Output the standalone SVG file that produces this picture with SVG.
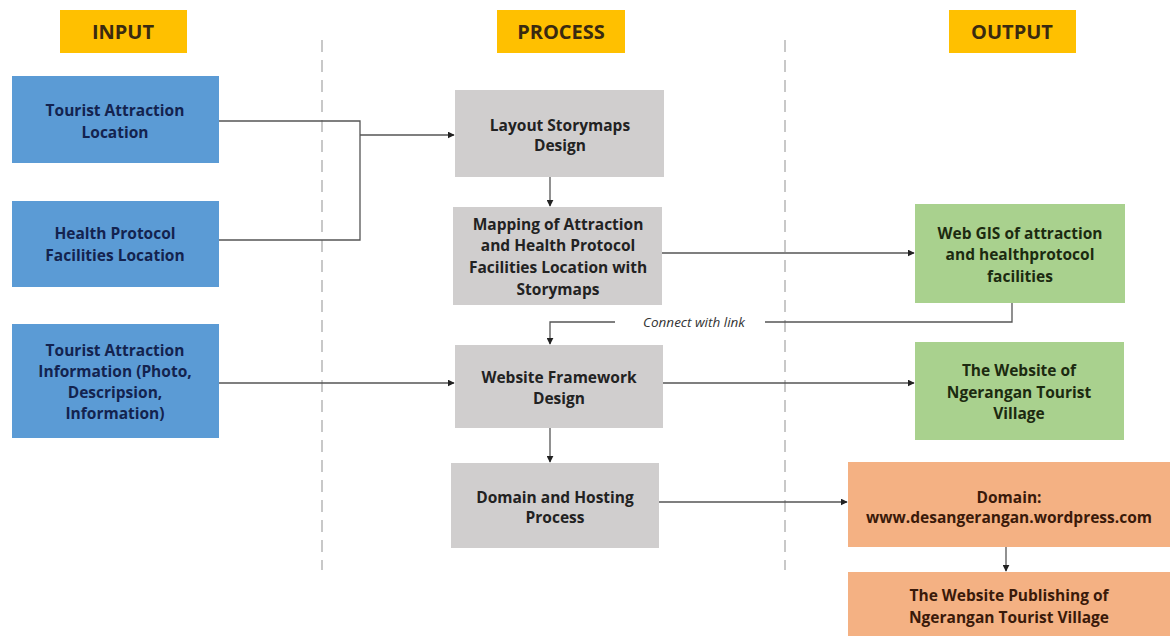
<svg xmlns="http://www.w3.org/2000/svg" width="1170" height="636" viewBox="0 0 1170 636">
<defs>
<marker id="arr" viewBox="0 0 10 10" refX="9" refY="5" markerWidth="7" markerHeight="7" markerUnits="userSpaceOnUse" orient="auto">
<path d="M0,0 L10,5 L0,10 z" fill="#222"/>
</marker>
<style>
.t{font-family:"Open Sans","Liberation Sans",sans-serif;font-weight:bold;font-size:15.5px;text-anchor:middle}
.hd{font-family:"Open Sans","Liberation Sans",sans-serif;font-weight:bold;font-size:20px;text-anchor:middle;fill:#3a2a10}
.hdbox{fill:#FFC000}
.blue{fill:#5B9BD5}
.bt{fill:#13234f}
.gray{fill:#D0CECE}
.gt{fill:#222}
.green{fill:#A9D18E}
.grt{fill:#1c2a10}
.orange{fill:#F4B183}
.ot{fill:#3a1a0a}
.c{fill:none;stroke:#555;stroke-width:1.3}
.dash{stroke:#c8c8c8;stroke-width:2;stroke-dasharray:12,8;fill:none}
.lbl{font-family:"Open Sans","Liberation Sans",sans-serif;font-style:italic;font-size:13.5px;fill:#333;text-anchor:middle}
</style>
</defs>
<rect width="1170" height="636" fill="#fff"/>
<g id="dividers">
<line class="dash" x1="322" y1="40" x2="322" y2="570"/>
<line class="dash" x1="785" y1="40" x2="785" y2="570"/>
</g>
<g id="hdr-input"><rect class="hdbox" x="60" y="10" width="127" height="43"/><text class="hd" x="123" y="39">INPUT</text></g>
<g id="hdr-process"><rect class="hdbox" x="497" y="10" width="128" height="43"/><text class="hd" x="561" y="39">PROCESS</text></g>
<g id="hdr-output"><rect class="hdbox" x="949" y="10" width="127" height="43"/><text class="hd" x="1012" y="39">OUTPUT</text></g>

<g id="in1"><rect class="blue" x="12" y="76" width="207" height="87"/>
<text class="t bt" x="115" y="116">Tourist Attraction</text><text class="t bt" x="115" y="138">Location</text></g>
<g id="in2"><rect class="blue" x="12" y="201" width="207" height="86"/>
<text class="t bt" x="115" y="239">Health Protocol</text><text class="t bt" x="115" y="261">Facilities Location</text></g>
<g id="in3"><rect class="blue" x="12" y="324" width="207" height="114"/>
<text class="t bt" x="115" y="356">Tourist Attraction</text><text class="t bt" x="115" y="377">Information (Photo,</text><text class="t bt" x="115" y="398">Descripsion,</text><text class="t bt" x="115" y="419">Information)</text></g>

<g id="p1"><rect class="gray" x="455" y="90" width="209" height="87"/>
<text class="t gt" x="560" y="131">Layout Storymaps</text><text class="t gt" x="560" y="151">Design</text></g>
<g id="p2"><rect class="gray" x="453" y="207" width="209" height="98"/>
<text class="t gt" x="558" y="230">Mapping of Attraction</text><text class="t gt" x="558" y="251">and Health Protocol</text><text class="t gt" x="558" y="273">Facilities Location with</text><text class="t gt" x="558" y="295">Storymaps</text></g>
<g id="p3"><rect class="gray" x="455" y="345" width="208" height="83"/>
<text class="t gt" x="559" y="383">Website Framework</text><text class="t gt" x="559" y="404">Design</text></g>
<g id="p4"><rect class="gray" x="451" y="463" width="208" height="85"/>
<text class="t gt" x="555" y="503">Domain and Hosting</text><text class="t gt" x="555" y="523">Process</text></g>

<g id="o1"><rect class="green" x="915" y="204" width="210" height="99"/>
<text class="t grt" x="1020" y="239">Web GIS of attraction</text><text class="t grt" x="1020" y="260">and healthprotocol</text><text class="t grt" x="1020" y="282">facilities</text></g>
<g id="o2"><rect class="green" x="915" y="342" width="209" height="98"/>
<text class="t grt" x="1019" y="376">The Website of</text><text class="t grt" x="1019" y="398">Ngerangan Tourist</text><text class="t grt" x="1019" y="419">Village</text></g>
<g id="o3"><rect class="orange" x="848" y="462" width="322" height="85"/>
<text class="t ot" x="1009" y="503">Domain:</text><text class="t ot" x="1009" y="523">www.desangerangan.wordpress.com</text></g>
<g id="o4"><rect class="orange" x="848" y="572" width="322" height="64"/>
<text class="t ot" x="1009" y="601">The Website Publishing of</text><text class="t ot" x="1009" y="623">Ngerangan Tourist Village</text></g>

<g id="connectors">
<polyline class="c" points="219,121 360,121 360,240 219,240"/>
<line class="c" x1="360" y1="135" x2="454" y2="135" marker-end="url(#arr)"/>
<line class="c" x1="550" y1="177" x2="550" y2="206" marker-end="url(#arr)"/>
<line class="c" x1="662" y1="253" x2="914" y2="253" marker-end="url(#arr)"/>
<polyline class="c" points="1012,303 1012,322 765,322"/>
<polyline class="c" points="615,322 550,322 550,344" marker-end="url(#arr)"/>
<text class="lbl" x="694" y="327">Connect with link</text>
<line class="c" x1="219" y1="383" x2="454" y2="383" marker-end="url(#arr)"/>
<line class="c" x1="663" y1="383" x2="914" y2="383" marker-end="url(#arr)"/>
<line class="c" x1="550" y1="428" x2="550" y2="462" marker-end="url(#arr)"/>
<line class="c" x1="659" y1="502" x2="847" y2="502" marker-end="url(#arr)"/>
<line class="c" x1="1006" y1="547" x2="1006" y2="571" marker-end="url(#arr)"/>
</g>
</svg>
